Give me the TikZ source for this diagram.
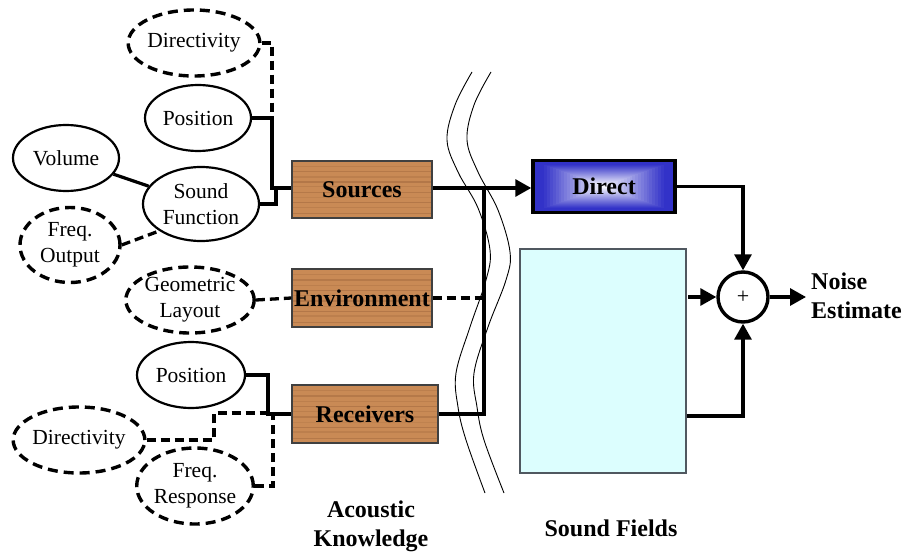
\documentclass[tikz,border=0pt]{standalone}
\usepackage{fontspec}
\setmainfont{Liberation Serif}
\usetikzlibrary{shapes.geometric,arrows.meta,calc}
\definecolor{wood}{HTML}{C98A55}
\definecolor{woodline}{HTML}{8A5530}
\definecolor{dblue}{HTML}{3232C8}
\definecolor{cyanbox}{HTML}{DCFEFE}
\definecolor{cyanedge}{HTML}{505860}
\tikzset{
  ell/.style={ellipse, draw, line width=2.2pt, inner sep=0pt, align=center,
    font=\fontsize{21.5}{26}\selectfont},
  dell/.style={ell, line width=3.4pt, dash pattern=on 10pt off 6pt},
  wbox/.style={rectangle, draw=black!75, line width=1.2pt, fill=wood, inner sep=0pt,
    minimum width=140pt, minimum height=58pt,
    font=\bfseries\fontsize{24}{28}\selectfont,
    path picture={
      \foreach \f/\o in {0.08/0.3,0.19/0.2,0.27/0.35,0.36/0.15,0.45/0.3,0.55/0.2,0.63/0.35,0.72/0.2,0.81/0.3,0.9/0.2}{
        \draw[woodline, opacity=\o, line width=1.2pt]
          ($(path picture bounding box.south west)!\f!(path picture bounding box.north west)$) --
          ($(path picture bounding box.south east)!\f!(path picture bounding box.north east)$);
      }
    }},
  conn/.style={line width=3.2pt},
  dconn/.style={line width=3.3pt, dash pattern=on 9pt off 5pt},
  arr/.style={-{Triangle[length=16pt,width=17pt]}},
  lbl/.style={font=\bfseries\fontsize{24}{29}\selectfont, align=center, inner sep=0pt},
  wave/.style={line width=0.9pt},
}
\begin{document}
\begin{tikzpicture}[x=1pt,y=-1pt]
\useasboundingbox (0,0) rectangle (909,556);

% wavy separator
\draw[wave] plot[smooth, tension=0.6] coordinates {(472,72) (455,105) (447,140) (458,172) (478,208) (490,250) (486,280) (470,327) (456,373) (458,407) (466,440) (485,493)};
\draw[wave] plot[smooth, tension=0.6] coordinates {(491,72) (474,105) (467,140) (478,172) (498,210) (510,252) (506,280) (488,327) (474,373) (477,407) (484,440) (504,493)};

% ellipses
\node[dell, minimum width=116pt, minimum height=66pt] (dir1) at (194,43) {Directivity};
\node[ell, minimum width=106pt, minimum height=66pt] (pos1) at (198,118) {Position};
\node[ell, minimum width=106pt, minimum height=66pt] (vol) at (66,158) {Volume};
\node[ell, minimum width=116pt, minimum height=74pt] (sf) at (201,204) {Sound\\Function};
\node[dell, minimum width=100pt, minimum height=75pt] (fo) at (70,245) {Freq.\\Output};
\node[dell, minimum width=124pt, minimum height=66pt] (geo) at (190,300) {Geometric\\Layout};
\node[ell, minimum width=108pt, minimum height=66pt] (pos2) at (191,375) {Position};
\node[dell, minimum width=116pt, minimum height=66pt] (dir2) at (79,440) {Directivity};
\node[dell, minimum width=116pt, minimum height=76pt] (fr) at (195,486) {Freq.\\Response};

% wooden boxes
\node[wbox, minimum height=57pt] (src) at (362,189.5) {Sources};
\node[wbox] (env) at (362,298) {\makebox[0pt]{Environment}};
\node[wbox, minimum width=146pt] (rec) at (365,414) {Receivers};

% direct box
\node[rectangle, draw, line width=3.5pt, minimum width=142pt, minimum height=52pt, inner sep=0pt,
  font=\bfseries\fontsize{24}{28}\selectfont,
  path picture={
    \foreach \i in {0,...,24}{
      \pgfmathsetmacro\s{1-\i/25}
      \pgfmathsetmacro\p{min(100,115*\s)}
      \fill[dblue!\p!white] ($(path picture bounding box.center)+(-71*\s,-26*\s)$) rectangle ($(path picture bounding box.center)+(71*\s,26*\s)$);
    }
  }] (direct) at (604,186.5) {Direct};

% sound fields box
\node[rectangle, draw=cyanedge, fill=cyanbox, line width=1.2pt, minimum width=166pt, minimum height=224pt, inner sep=0pt] (sfbox) at (603,361) {};

% summing junction
\node[circle, draw, line width=3.4pt, minimum size=50pt, inner sep=0pt, font=\fontsize{22}{24}\selectfont] (sum) at (743,297) {+};

% helper coordinates
\coordinate (jsrc) at (484,188);
\coordinate (jenv) at (484,298);
\coordinate (jrec) at (484,414);
\coordinate (ja) at (272,118);
\coordinate (jb) at (272,188);
\coordinate (jc) at (276,188);
\coordinate (jd) at (268,414);
\coordinate (je) at (214,413);
\coordinate (jf) at (273,413);
\coordinate (out) at (806,297);
\coordinate (sfa) at (688,297);
\coordinate (sfb) at (687,416);

% left connectors (sources)
\draw[dconn] (dir1.east) -| (ja);
\draw[conn] (pos1.east) -| (jb) -- (jb -| src.west);
\draw[conn] (sf.east) -| (jc);
\draw[conn] (vol) -- (sf);
\draw[dconn] (fo.east) -- (sf.south west);

% environment
\draw[dconn] (geo.east) -- (env.west);
\draw[dconn] (env.east) -- (jenv);

% receivers
\draw[conn] (pos2.east) -| (jd) -- (rec.west);
\draw[dconn] (dir2.east) -| (je) -- (jf);
\draw[dconn] (fr.east) -| (jf);

% trunk
\draw[conn] (jsrc -| src.east) -- (jsrc);
\draw[conn] (rec.east) -- (jrec) -- (jsrc);
\draw[conn, arr] (jsrc) -- (jsrc -| direct.west);

% to sum
\draw[conn, arr] (direct.east) -| (sum.north);
\draw[conn, arr] (sfa) -- (sum.west);
\draw[conn, arr] (sfb) -| (sum.south);
\draw[conn, arr] (sum.east) -- (out);

% labels
\node[lbl, anchor=west, align=left] (noise) at (811,296) {Noise\\Estimate};
\node[lbl] (ak) at (371,526) {Acoustic\\Knowledge};
\node[lbl] (sfl) at (611,528) {Sound Fields};
\end{tikzpicture}
\end{document}
